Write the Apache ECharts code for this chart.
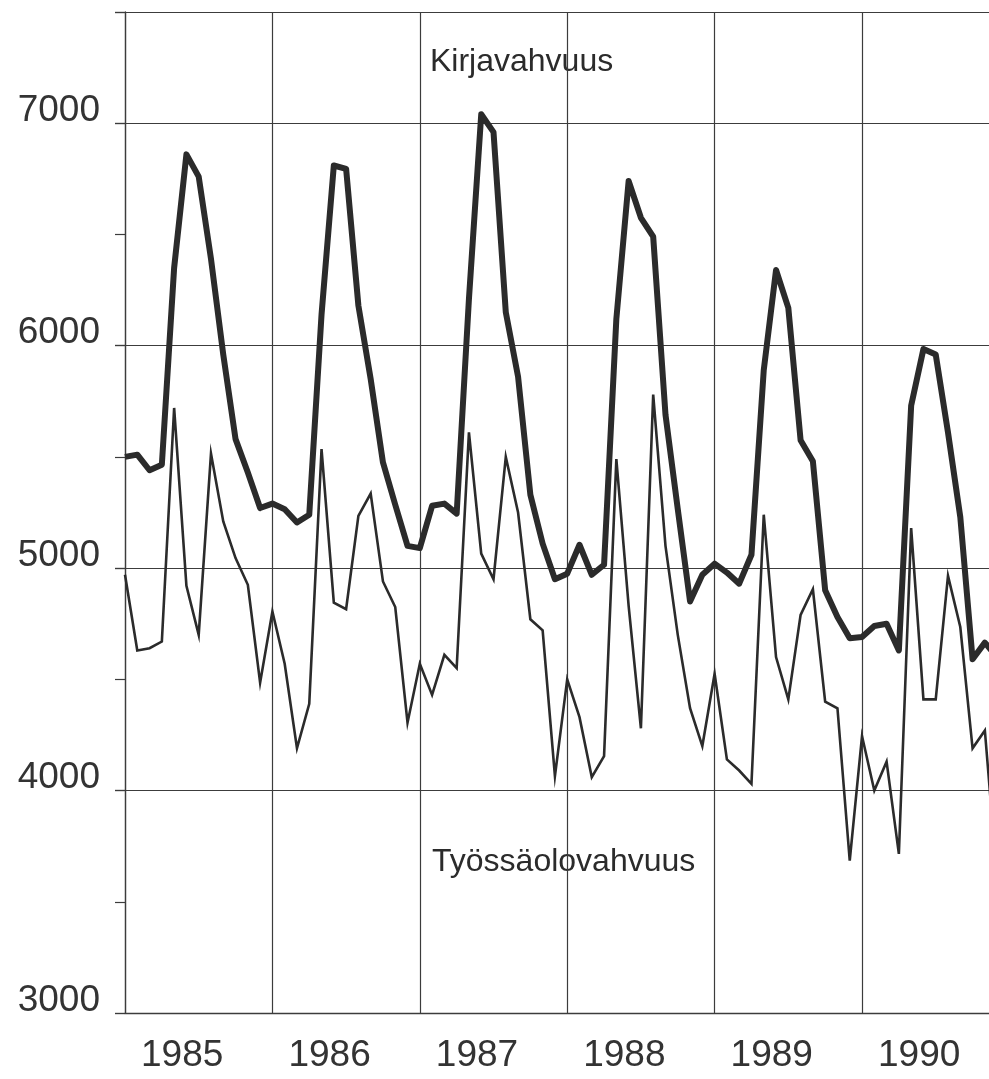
<!DOCTYPE html>
<html>
<head>
<meta charset="utf-8">
<script src="https://cdn.jsdelivr.net/npm/echarts@6/dist/echarts.min.js"></script>
<style>
html,body{margin:0;padding:0;background:#ffffff;overflow:hidden;}
#chart{width:989px;height:1079px;overflow:hidden;}
</style>
</head>
<body>
<div id="chart"></div>
<script>
// Monthly values, Jan 1985 .. Dec 1990
var years = ['1985', '1986', '1987', '1988', '1989', '1990'];
var yTickValues = [3000, 4000, 5000, 6000, 7000];

var kirjavahvuus = [
  5500, 5510, 5440, 5465, 6350, 6860, 6760, 6390, 5960, 5580, 5430, 5270,
  5290, 5265, 5205, 5240, 6140, 6810, 6795, 6180, 5850, 5475, 5285, 5100,
  5090, 5280, 5290, 5245, 6210, 7040, 6960, 6150, 5860, 5330, 5110, 4950,
  4975, 5105, 4970, 5015, 6120, 6740, 6575, 6490, 5690, 5265, 4850, 4970,
  5020, 4980, 4930, 5060, 5890, 6340, 6170, 5575, 5480, 4900, 4780, 4685,
  4690, 4740, 4750, 4630, 5730, 5985, 5960, 5610, 5230, 4590, 4665, 4600
];

var tyossaolovahvuus = [
  4970, 4630, 4640, 4670, 5720, 4920, 4700, 5515, 5210, 5045, 4925, 4485,
  4805, 4570, 4190, 4390, 5535, 4845, 4815, 5235, 5335, 4940, 4825, 4305,
  4570, 4430, 4610, 4550, 5610, 5065, 4950, 5500, 5250, 4770, 4720, 4065,
  4500, 4330, 4060, 4155, 5490, 4830, 4280, 5780, 5100, 4700, 4370, 4200,
  4525, 4140, 4090, 4030, 5240, 4600, 4410, 4790, 4905, 4400, 4370, 3685,
  4245, 4000, 4130, 3715, 5180, 4410, 4410, 4965, 4735, 4190, 4270, 3600
];

var seriesNames = ['Kirjavahvuus', 'Työssäolovahvuus'];

function toPairs(arr) {
  return arr.map(function (v, i) { return [i, v]; });
}

var ink = '#2b2b2b';
var gridInk = '#3c3c3c';
var labelFont = '"Liberation Sans", Arial, sans-serif';

var chart = echarts.init(document.getElementById('chart'), null, {renderer: 'canvas', width: 989, height: 1079});

chart.setOption({
  animation: false,
  backgroundColor: '#ffffff',
  grid: {left: 125, top: 12, width: 866, height: 1001, containLabel: false, outerBoundsMode: 'none'},
  xAxis: {
    type: 'value',
    min: 0,
    max: 70.5,
    interval: 12,
    axisLine: {show: true, lineStyle: {color: gridInk, width: 1.3}},
    axisTick: {show: false},
    splitLine: {show: true, lineStyle: {color: gridInk, width: 1.2}},
    axisLabel: {
      show: true,
      margin: 25,
      align: 'left',
      verticalAlign: 'top',
      lineHeight: 36,
      padding: [0, 0, 0, 16],
      fontSize: 37,
      fontFamily: labelFont,
      color: '#333333',
      formatter: function (v) {
        if (v % 12 !== 0) return '';
        var idx = v / 12;
        return idx < years.length ? years[idx] : '';
      }
    }
  },
  yAxis: [
    {
      type: 'value',
      min: 3000,
      max: 7500,
      interval: 1000,
      position: 'left',
      axisLine: {show: true, lineStyle: {color: gridInk, width: 1.3}},
      axisTick: {show: true, length: 10, lineStyle: {color: gridInk, width: 1.2}},
      splitLine: {show: true, lineStyle: {color: gridInk, width: 1.2}},
      axisLabel: {
        margin: 25,
        verticalAlign: 'bottom',
        lineHeight: 25,
        fontSize: 37,
        fontFamily: labelFont,
        color: '#333333',
        formatter: function (v) {
          return yTickValues.indexOf(v) >= 0 ? String(v) : '';
        }
      }
    },
    {
      type: 'value',
      min: 3000,
      max: 7500,
      interval: 500,
      position: 'left',
      axisLine: {show: false},
      axisTick: {show: true, length: 10, lineStyle: {color: gridInk, width: 1.2}},
      splitLine: {show: false},
      axisLabel: {show: false}
    }
  ],
  graphic: [
    {
      type: 'text', x: 430, y: 62, z: 0, zlevel: 0, silent: true,
      style: {text: seriesNames[0], font: '32px ' + labelFont, fill: ink, align: 'left', verticalAlign: 'middle'}
    },
    {
      type: 'text', x: 432, y: 862, z: 0, zlevel: 0, silent: true,
      style: {text: seriesNames[1], font: '32px ' + labelFont, fill: ink, align: 'left', verticalAlign: 'middle'}
    }
  ],
  series: [
    {
      name: seriesNames[0],
      type: 'line',
      yAxisIndex: 0,
      data: toPairs(kirjavahvuus),
      showSymbol: false,
      symbol: 'none',
      clip: true,
      lineStyle: {color: ink, width: 6, join: 'round'},
      z: 3
    },
    {
      name: seriesNames[1],
      type: 'line',
      yAxisIndex: 0,
      data: toPairs(tyossaolovahvuus),
      showSymbol: false,
      symbol: 'none',
      clip: true,
      lineStyle: {color: ink, width: 2.6, join: 'miter'},
      z: 3
    }
  ]
});
</script>
</body>
</html>
